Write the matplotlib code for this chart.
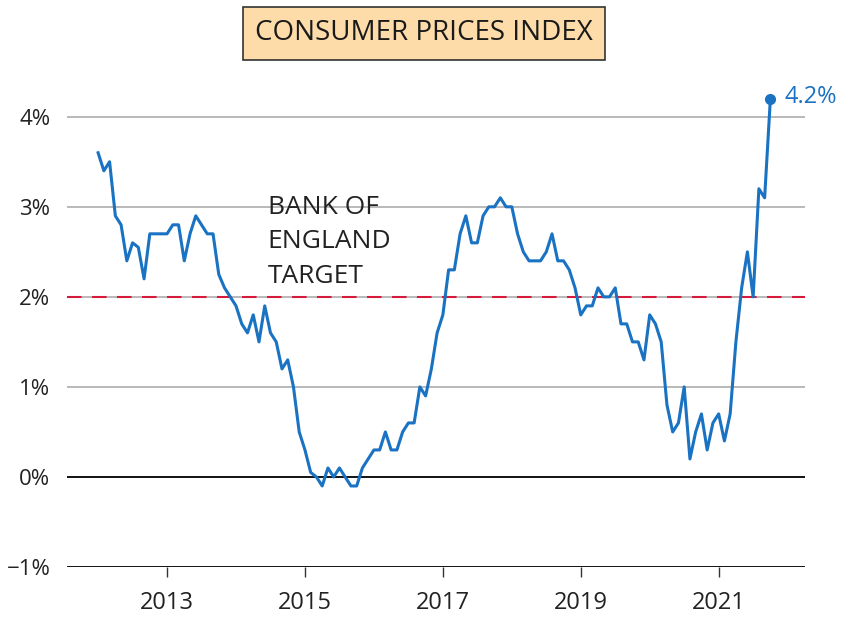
import matplotlib.pyplot as plt
import numpy as np

# UK CPI annual rate, monthly, Jan 2012 - Oct 2021 (%)
cpi_2012 = [3.6, 3.4, 3.5, 2.9, 2.8, 2.4, 2.6, 2.55, 2.2, 2.7, 2.7, 2.7]
cpi_2013 = [2.7, 2.8, 2.8, 2.4, 2.7, 2.9, 2.8, 2.7, 2.7, 2.25, 2.1, 2.0]
cpi_2014 = [1.9, 1.7, 1.6, 1.8, 1.5, 1.9, 1.6, 1.5, 1.2, 1.3, 1.0, 0.5]
cpi_2015 = [0.3, 0.05, 0.0, -0.1, 0.1, 0.0, 0.1, 0.0, -0.1, -0.1, 0.1, 0.2]
cpi_2016 = [0.3, 0.3, 0.5, 0.3, 0.3, 0.5, 0.6, 0.6, 1.0, 0.9, 1.2, 1.6]
cpi_2017 = [1.8, 2.3, 2.3, 2.7, 2.9, 2.6, 2.6, 2.9, 3.0, 3.0, 3.1, 3.0]
cpi_2018 = [3.0, 2.7, 2.5, 2.4, 2.4, 2.4, 2.5, 2.7, 2.4, 2.4, 2.3, 2.1]
cpi_2019 = [1.8, 1.9, 1.9, 2.1, 2.0, 2.0, 2.1, 1.7, 1.7, 1.5, 1.5, 1.3]
cpi_2020 = [1.8, 1.7, 1.5, 0.8, 0.5, 0.6, 1.0, 0.2, 0.5, 0.7, 0.3, 0.6]
cpi_2021 = [0.7, 0.4, 0.7, 1.5, 2.1, 2.5, 2.0, 3.2, 3.1, 4.2]

start_year = 2012
target = 2.0
y_levels = [-1, 0, 1, 2, 3, 4]
year_ticks = [2013, 2015, 2017, 2019, 2021]

values = np.array(cpi_2012 + cpi_2013 + cpi_2014 + cpi_2015 + cpi_2016 +
                  cpi_2017 + cpi_2018 + cpi_2019 + cpi_2020 + cpi_2021)
t = start_year + np.arange(len(values)) / 12

plt.rcParams['font.family'] = ['Open Sans', 'DejaVu Sans']

fig = plt.figure(figsize=(8.49, 6.18), dpi=100)
ax = fig.add_axes([0.079, 0.0825, 0.869, 0.816])
ax.set_xlim(2011.55, 2022.25)
ax.set_ylim(-1, 4.6)

for lv in y_levels:
    if lv in (0, -1):
        ax.axhline(lv, color='black', lw=1.3, zorder=1)
    else:
        ax.axhline(lv, color='#b3b3b3', lw=1.3, zorder=1)
ax.axhline(target, color='#d51a3c', lw=1.5, ls=(0, (7, 5)), zorder=2)

ax.plot(t, values, color='#1a72c2', lw=2.2, zorder=3, solid_joinstyle='round')
ax.plot(t[-1], values[-1], 'o', color='#1a72c2', ms=7, zorder=4)
ax.text(t[-1] + 0.2, values[-1] + 0.02, f"{values[-1]:.1f}%", color='#1a72c2',
        fontsize=17, va='center', ha='left')

ax.text(2014.46, 2.61, "BANK OF\nENGLAND\nTARGET", fontsize=19, color='#222222',
        ha='left', va='center', linespacing=1.5)

for s in ax.spines.values():
    s.set_visible(False)

ax.set_yticks(y_levels)
ax.set_yticklabels([f"{v}%".replace('-', '\u2212') for v in y_levels], fontsize=16, color='#222222')
ax.tick_params(axis='y', length=0, pad=12)
ax.set_xticks(year_ticks)
ax.set_xticklabels([str(y) for y in year_ticks], fontsize=17, color='#222222')
ax.tick_params(axis='x', length=7, width=1, color='#333333', pad=10)

fig.text(0.4994, 0.946, "CONSUMER PRICES INDEX", fontsize=20, color='#1a1a1a',
         ha='center', va='center',
         bbox=dict(boxstyle='square,pad=0.45', fc='#fddcaa', ec='#333333', lw=1.2))

fig.savefig('out.png', dpi=100)
